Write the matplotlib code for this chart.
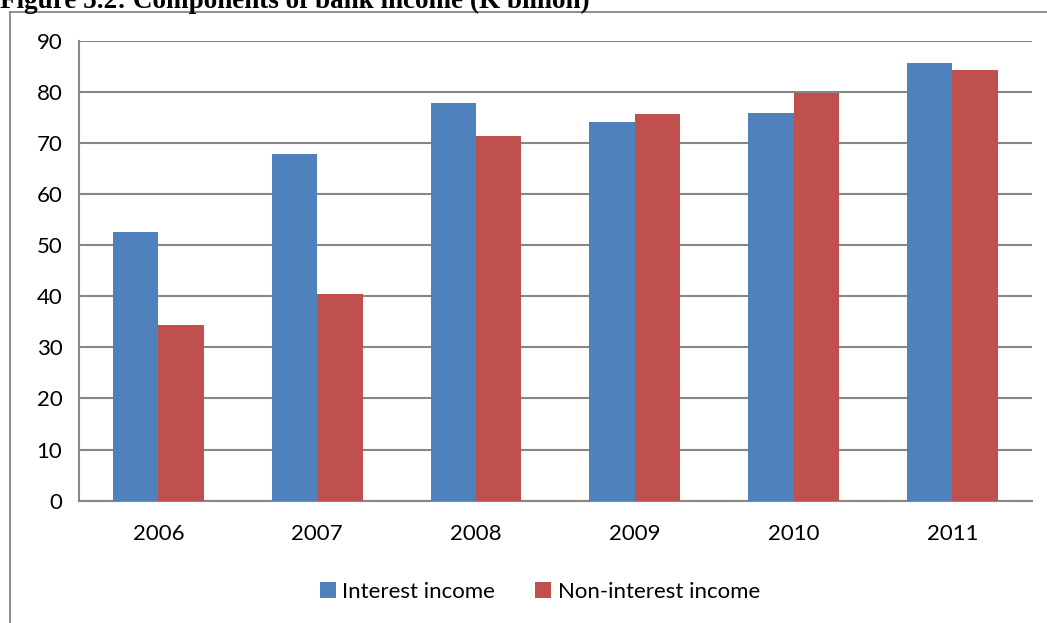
import numpy as np
import matplotlib.pyplot as plt
from matplotlib.lines import Line2D

years = ['2006', '2007', '2008', '2009', '2010', '2011']
interest_income = [52.5, 67.9, 77.8, 74.1, 75.9, 85.6]
non_interest_income = [34.4, 40.5, 71.3, 75.6, 79.8, 84.3]
series_names = ['Interest income', 'Non-interest income']

blue = '#4F81BD'
red = '#C0504D'
grid_grey = '#868686'

W, H = 1047, 623
fig = plt.figure(figsize=(W / 100, H / 100), dpi=100)
plt.rcParams['font.family'] = ['Lato', 'DejaVu Sans']

# chart frame, open at the right and bottom
fig.add_artist(Line2D([10 / W, 10 / W], [0, 1 - 12 / H], transform=fig.transFigure,
                      color=grid_grey, lw=1.3))
fig.add_artist(Line2D([10 / W, 1], [1 - 12 / H, 1 - 12 / H], transform=fig.transFigure,
                      color=grid_grey, lw=1.3))

# caption sits partly above the top edge of the page
fig.text(0, 1 - 8.5 / H, 'Figure 5.2: Components of bank income (K billion)',
         family='Liberation Serif', fontweight='bold', fontsize=19.5, va='baseline', ha='left')

ax = fig.add_axes([79 / W, 1 - 500.7 / H, (1031.7 - 79) / W, (500.7 - 40.7) / H])

x = np.arange(len(years))
w = 1 / 3.5
ax.bar(x - w / 2, interest_income, width=w, color=blue, label=series_names[0], zorder=3)
ax.bar(x + w / 2, non_interest_income, width=w, color=red, label=series_names[1], zorder=3)

ax.set_xlim(-0.5, len(years) - 0.5)
ax.set_ylim(0, 90)
ax.set_yticks(range(0, 91, 10))
ax.set_xticks(x)
ax.set_xticklabels(years)
ax.yaxis.grid(True, color=grid_grey, lw=1.5, zorder=0)
ax.tick_params(axis='both', length=0, labelsize=16, colors='black')
ax.tick_params(axis='y', pad=12)
ax.tick_params(axis='x', pad=17)

for side in ['top', 'right']:
    ax.spines[side].set_visible(False)
for side in ['left', 'bottom']:
    ax.spines[side].set_color(grid_grey)
    ax.spines[side].set_linewidth(1.5)

ax.legend(loc='center', bbox_to_anchor=(540 / W, 1 - 591.5 / H), bbox_transform=fig.transFigure,
          ncol=2, frameon=False, fontsize=16, handlelength=0.7, handleheight=0.7,
          handletextpad=0.3, columnspacing=1.8)

fig.savefig('out.png', dpi=100)
